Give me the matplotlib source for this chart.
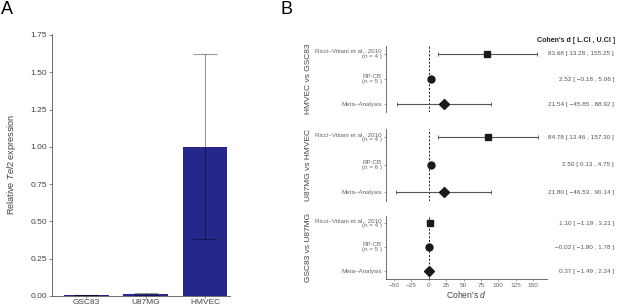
import matplotlib
matplotlib.use("Agg")
import matplotlib.pyplot as plt
import matplotlib.transforms as mtransforms

plt.rcParams['font.family'] = ['Liberation Sans', 'DejaVu Sans']
plt.rcParams['mathtext.fontset'] = 'custom'
plt.rcParams['mathtext.rm'] = 'Liberation Sans'
plt.rcParams['mathtext.it'] = 'Liberation Sans:italic'

# Panel A: relative Tel2 expression
cells = ["GSC83", "U87MG", "HMVEC"]
expr = [0.008, 0.015, 1.00]
expr_err = [0.002, 0.007, 0.62]

# Panel B: forest plots (Cohen's d with CI)
comparisons = ["HMVEC vs GSC83", "U87MG vs HMVEC", "GSC83 vs U87MG"]
studies = ["Ricci\u2013Vitiani et al., 2010", "RP:CB", "Meta\u2013Analysis"]
n_ricci = [4, 4, 4]
n_rpcb = [5, 6, 5]
d_est = [[83.68, 2.52, 21.54], [84.78, 2.50, 21.80], [1.10, -0.02, 0.37]]
d_lo = [[13.28, -0.18, -45.85], [13.46, 0.13, -46.53], [-1.19, -1.80, -1.49]]
d_hi = [[155.25, 5.06, 88.92], [157.30, 4.75, 90.14], [3.21, 1.78, 2.24]]
d_ticks = [-50, -25, 0, 25, 50, 75, 100, 125, 150]

W, H = 617, 307


def box(l, t, r, b):
    # pixel box -> figure fraction rect
    return [l / W, 1 - b / H, (r - l) / W, (b - t) / H]


def fmt(v):
    return f"{v:.2f}".replace("-", "\u2212")


fig = plt.figure(figsize=(W / 100, H / 100), dpi=100)
axis_col = "#555555"
txt_col = "#444444"

# ---- Panel A ----
axA = fig.add_axes(box(52, 33.5, 230, 296))
x = range(len(cells))
axA.bar(x, expr, width=0.75, color="#25288a", zorder=2)
axA.errorbar(x, expr, yerr=expr_err, fmt="none", ecolor="black", alpha=0.4,
             elinewidth=0.8, capsize=8.5, capthick=0.8, zorder=3)
axA.set_xlim(-0.58, 2.42)
axA.set_ylim(0, 1.76)
axA.set_yticks([0, 0.25, 0.5, 0.75, 1.0, 1.25, 1.5, 1.75])
axA.set_yticklabels(["0.00", "0.25", "0.50", "0.75", "1.00", "1.25", "1.50", "1.75"])
axA.set_xticks(list(x))
axA.set_xticklabels(cells)
for s in ["top", "right"]:
    axA.spines[s].set_visible(False)
for s in ["left", "bottom"]:
    axA.spines[s].set_color(axis_col)
    axA.spines[s].set_linewidth(0.6)
axA.tick_params(axis="y", labelsize=6, colors=axis_col, labelcolor=txt_col,
                length=2, width=0.5, pad=1.5)
axA.tick_params(axis="x", labelsize=6.0, colors=axis_col, labelcolor=txt_col,
                length=1.5, width=0.5, pad=0.5)
axA.set_ylabel(r"Relative $\mathit{Tel2}$ expression", fontsize=6.6, color=txt_col)
axA.yaxis.set_label_coords(-0.19, 0.5)
fig.text(1 / W, 1 - 1 / H, "A", fontsize=13, va="top", ha="left")

# ---- Panel B ----
fig.text(281 / W, 1 - 1 / H, "B", fontsize=13, va="top", ha="left")
fig.text(615 / W, 1 - 40 / H, "Cohen's d [ L.CI , U.CI ]", fontsize=5.1,
         fontweight="bold", ha="right", va="center", color="#222222")

sub_boxes = [(46, 112), (129, 200.5), (216, 278.5)]
markers = ["s", "o", "D"]
msizes = [4.3, 5.0, 4.6]
rows = [1, 2, 3]

for i, comp in enumerate(comparisons):
    top, bot = sub_boxes[i]
    ax = fig.add_axes(box(386, top, 547, bot))
    ax.axvline(0, color="black", lw=0.6, ls=(0, (2.5, 2)), zorder=1)
    for j in range(3):
        ax.plot([d_lo[i][j], d_hi[i][j]], [rows[j], rows[j]], color="#555555",
                lw=0.8, zorder=2)
        ax.plot([d_lo[i][j], d_hi[i][j]], [rows[j], rows[j]], ls="none",
                marker="|", ms=2.5, mew=0.6, color="#555555", zorder=2)
        ax.plot(d_est[i][j], rows[j], marker=markers[j], ms=msizes[j],
                color="#1a1a1a", ls="none", zorder=3)
    ax.set_xlim(-61.5, 170)
    ax.set_ylim(3.3, 0.7)
    ax.set_yticks(rows)
    ax.set_yticklabels([])
    ax.tick_params(axis="y", length=1.5, width=0.4, colors=axis_col)
    for s in ["top", "right"]:
        ax.spines[s].set_visible(False)
    ax.spines["left"].set_color(axis_col)
    ax.spines["left"].set_linewidth(0.6)
    if i < 2:
        ax.spines["bottom"].set_visible(False)
        ax.set_xticks([])
    else:
        ax.spines["bottom"].set_color(axis_col)
        ax.spines["bottom"].set_linewidth(0.6)
        ax.set_xticks(d_ticks)
        ax.tick_params(axis="x", labelsize=4.6, colors=axis_col, labelcolor="#666666",
                       length=1.5, width=0.4, pad=1.5)
        ax.set_xlabel(r"Cohen's $\mathit{d}$", fontsize=6.2, color=txt_col, labelpad=1.2)

    # study labels to the left of the axis
    lab_tr = mtransforms.blended_transform_factory(ax.transAxes, ax.transData)
    row_labels = [f"{studies[0]}\n(n = {n_ricci[i]} )",
                  f"{studies[1]}\n(n = {n_rpcb[i]} )",
                  studies[2]]
    for j, lab in enumerate(row_labels):
        ax.text(-0.025, rows[j], lab, transform=lab_tr, ha="right", va="center",
                multialignment="right", fontsize=4.5, color="#666666", linespacing=1.1)

    # effect size text on the right
    val_tr = mtransforms.blended_transform_factory(fig.transFigure, ax.transData)
    for j in range(3):
        s = f"{fmt(d_est[i][j])} [ {fmt(d_lo[i][j])} , {fmt(d_hi[i][j])} ]"
        ax.text(614 / W, rows[j], s, transform=val_tr, ha="right", va="center",
                fontsize=4.6, color="#555555")

    # comparison label
    grp_tr = mtransforms.blended_transform_factory(fig.transFigure, ax.transAxes)
    ax.text(308 / W, 0.5, comp, transform=grp_tr, rotation=90, ha="center",
            va="center", fontsize=6.0, color=txt_col)

fig.savefig("out.png", dpi=100)
